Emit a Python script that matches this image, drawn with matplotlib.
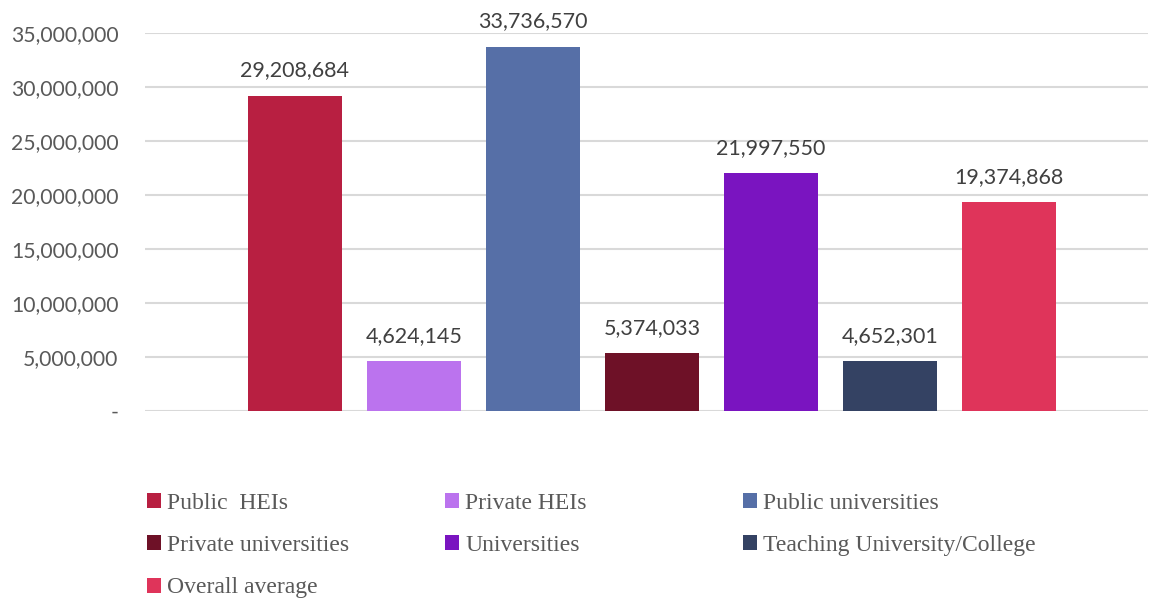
import matplotlib.pyplot as plt
from matplotlib.ticker import FuncFormatter

series = ["Public  HEIs", "Private HEIs", "Public universities", "Private universities",
          "Universities", "Teaching University/College", "Overall average"]
values = [29208684, 4624145, 33736570, 5374033, 21997550, 4652301, 19374868]
colors = ["#b81f41", "#bb73ee", "#566fa7", "#6e1127", "#7a14c0", "#344263", "#df345a"]

fig = plt.figure(figsize=(11.5, 5.99), dpi=100)
ax = fig.add_axes([145 / 1150, 1 - 411 / 599, 1003 / 1150, 378 / 599])

bars = []
for i, (name, v, c) in enumerate(zip(series, values, colors)):
    b = ax.bar(i, v, width=0.79, color=c, label=name, zorder=3)
    bars.append(b)
    ax.text(i, v + 1400000, f"{v:,}", ha="center", va="bottom",
            fontsize=15.5, color="#404040", family="Lato")

ax.set_xlim(-1.26, 7.17)
ax.set_ylim(0, 35000000)
ax.set_yticks(range(0, 35000001, 5000000))
ax.yaxis.set_major_formatter(FuncFormatter(lambda v, p: "-" if v == 0 else f"{int(v):,}"))
ax.set_xticks([])
ax.grid(axis="y", color="#d9d9d9", linewidth=1.5, zorder=0)
for s in ax.spines.values():
    s.set_visible(False)
ax.tick_params(axis="y", length=0, pad=19, labelsize=15.2, labelcolor="#595959")
for lab in ax.get_yticklabels():
    lab.set_family("Lato")

# legend in three columns, row-major order
handles = [b[0] for b in bars]
col_x = [147 / 1150, 445 / 1150, 743 / 1150]
for k in range(3):
    fig.legend(handles[k::3], series[k::3], loc="upper left",
               bbox_to_anchor=(col_x[k], 1 - 493 / 599), frameon=False,
               prop={"family": "Liberation Serif", "size": 17},
               labelcolor="#595959", handlelength=0.6, handleheight=0.6,
               handletextpad=0.25, labelspacing=0.9, borderaxespad=0,
               borderpad=0)

fig.savefig("out.png")
